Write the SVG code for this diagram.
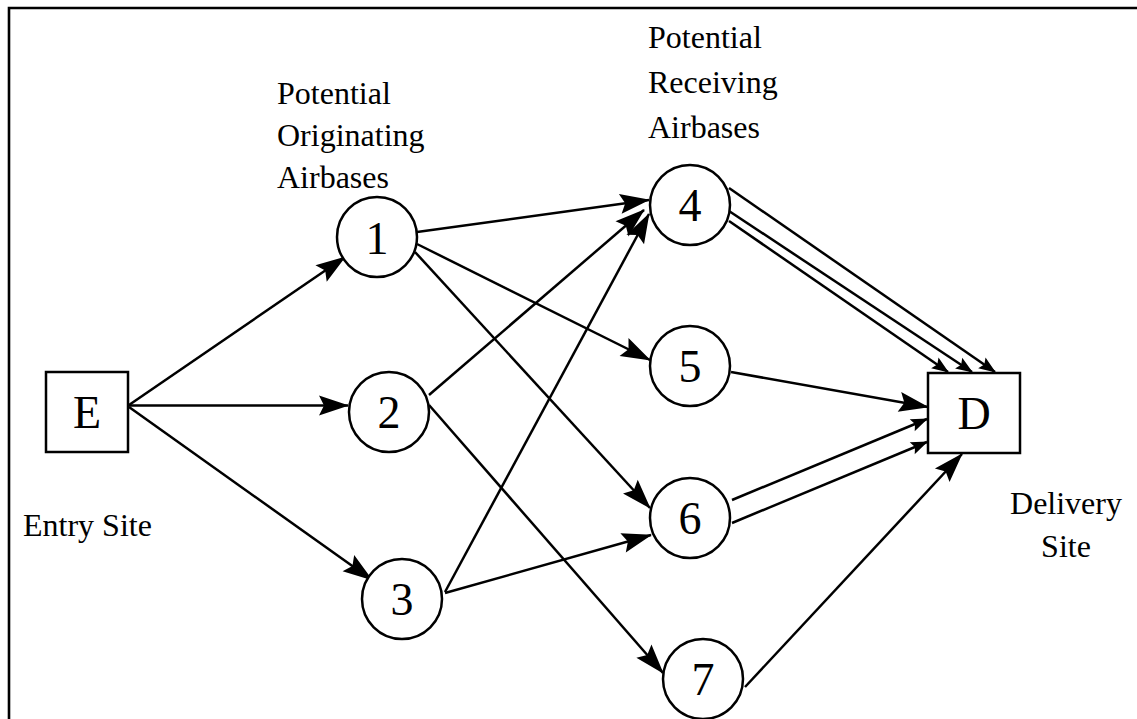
<svg xmlns="http://www.w3.org/2000/svg" width="1137" height="719" viewBox="0 0 1137 719">
<style>
.frame{stroke:#000;stroke-width:2.6;fill:none}
.node{fill:#fff;stroke:#000;stroke-width:2.5}
.num{font-family:"Liberation Serif","Times New Roman",serif;font-size:46px;fill:#000;text-anchor:middle}
.lbl{font-family:"Liberation Serif","Times New Roman",serif;font-size:32px;fill:#000}
.edge{stroke:#000;stroke-width:2.5;fill:none}
.big{marker-end:url(#big)}
.small{marker-end:url(#small)}
</style>
<defs>
<marker id="big" markerUnits="userSpaceOnUse" markerWidth="34" markerHeight="24" viewBox="-31 -12 34 24" refX="0" refY="0" orient="auto">
<path d="M1,0 L-29,-10 L-24,0 L-29,10 Z" fill="#000"/>
</marker>
<marker id="small" markerUnits="userSpaceOnUse" markerWidth="20" markerHeight="16" viewBox="-18 -8 20 16" refX="0" refY="0" orient="auto">
<path d="M1,0 L-16,-6.5 L-13,0 L-16,6.5 Z" fill="#000"/>
</marker>
</defs>
<rect width="1137" height="719" fill="#fff"/>
<path class="frame" d="M9,719 L9,8 L1137,8"/>

<g id="connectors">
<line class="edge big" x1="129" y1="405" x2="345" y2="257"/>
<line class="edge big" x1="129" y1="405.5" x2="348" y2="405.5"/>
<line class="edge big" x1="129" y1="407" x2="372" y2="580"/>
<line class="edge big" x1="417" y1="232" x2="649" y2="200"/>
<line class="edge big" x1="429" y1="395" x2="644" y2="210"/>
<line class="edge big" x1="445" y1="592" x2="649" y2="214"/>
<line class="edge big" x1="417" y1="244" x2="650" y2="360"/>
<line class="edge big" x1="415" y1="252" x2="650" y2="508"/>
<line class="edge big" x1="445" y1="593" x2="651" y2="535"/>
<line class="edge big" x1="429" y1="405" x2="663" y2="673"/>
<line class="edge small" x1="729" y1="188" x2="995" y2="372"/>
<line class="edge small" x1="729" y1="211" x2="972" y2="372"/>
<line class="edge small" x1="729" y1="221" x2="948" y2="372"/>
<line class="edge big" x1="731" y1="372" x2="928" y2="407"/>
<line class="edge small" x1="732" y1="500" x2="927" y2="419"/>
<line class="edge small" x1="732" y1="523" x2="927" y2="442"/>
<line class="edge big" x1="745" y1="687" x2="962" y2="454"/>
</g>

<g id="E"><rect class="node" x="46" y="372" width="82" height="80"/><text class="num" x="87" y="428">E</text></g>
<g id="n1"><circle class="node" cx="377" cy="237" r="40"/><text class="num" x="377" y="254">1</text></g>
<g id="n2"><circle class="node" cx="389" cy="412" r="40"/><text class="num" x="389" y="428">2</text></g>
<g id="n3"><circle class="node" cx="402" cy="599" r="40"/><text class="num" x="402" y="615">3</text></g>
<g id="n4"><circle class="node" cx="690" cy="205" r="40"/><text class="num" x="690" y="221">4</text></g>
<g id="n5"><circle class="node" cx="690" cy="366" r="40"/><text class="num" x="690" y="382">5</text></g>
<g id="n6"><circle class="node" cx="690" cy="518" r="40"/><text class="num" x="690" y="534">6</text></g>
<g id="n7"><circle class="node" cx="703" cy="679" r="40"/><text class="num" x="703" y="695">7</text></g>
<g id="D"><rect class="node" x="928" y="373" width="92" height="80"/><text class="num" x="974" y="429">D</text></g>

<g id="labels">
<text class="lbl" x="277" y="104">Potential</text>
<text class="lbl" x="277" y="146">Originating</text>
<text class="lbl" x="277" y="188">Airbases</text>
<text class="lbl" x="648" y="48">Potential</text>
<text class="lbl" x="648" y="93">Receiving</text>
<text class="lbl" x="648" y="138">Airbases</text>
<text class="lbl" x="23" y="536">Entry Site</text>
<text class="lbl" x="1066" y="514" text-anchor="middle">Delivery</text>
<text class="lbl" x="1066" y="557" text-anchor="middle">Site</text>
</g>
</svg>
